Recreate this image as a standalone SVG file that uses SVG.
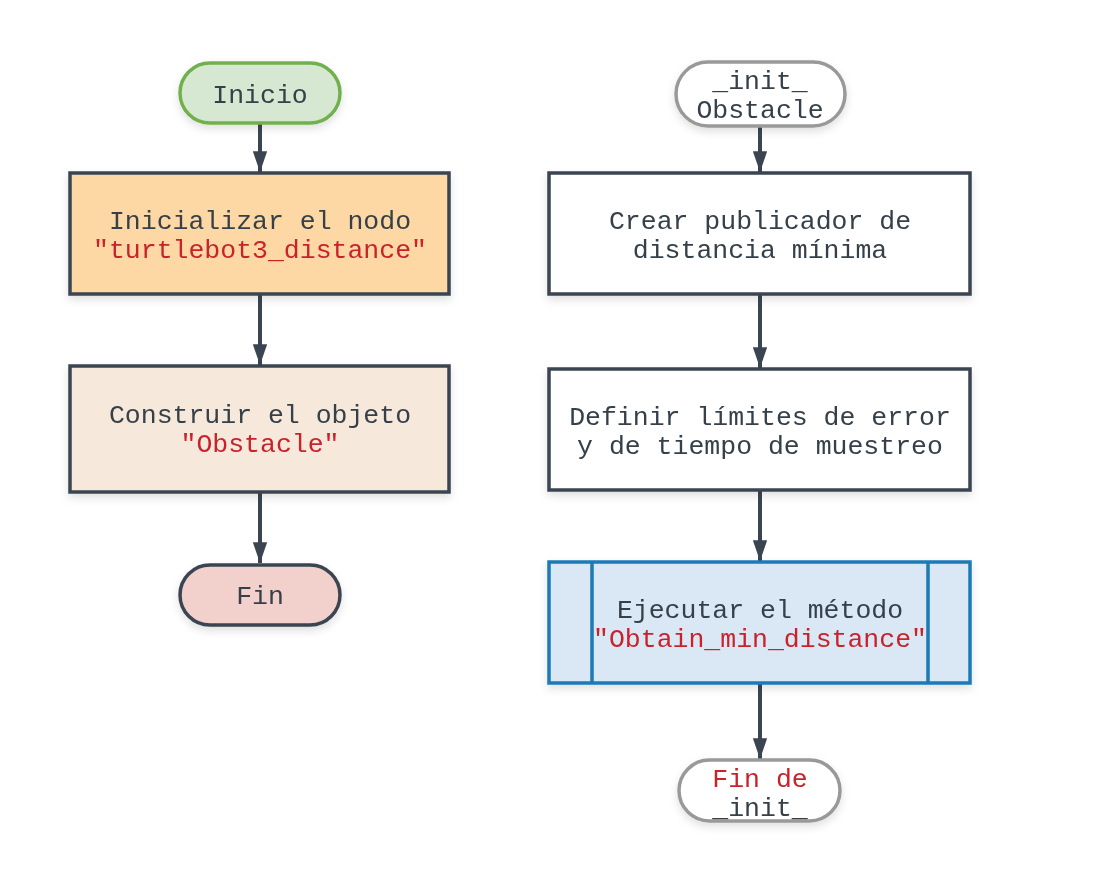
<svg xmlns="http://www.w3.org/2000/svg" width="1105" height="883" viewBox="0 0 1105 883">
<style>
text{font-family:"Liberation Mono","DejaVu Sans Mono",monospace;font-size:26.5px;fill:#36404a;text-anchor:middle}
.r{fill:#c8232c}
.box{stroke:#3b4551;stroke-width:3.5}
.con{stroke:#3b4551;stroke-width:4;fill:none;marker-end:url(#ah)}
</style>
<defs>
<marker id="ah" viewBox="0 0 10 10" refX="10" refY="5" markerWidth="5.2" markerHeight="3.6" markerUnits="strokeWidth" orient="auto" preserveAspectRatio="none"><path d="M0,0L10,5L0,10z" fill="#3b4551"/></marker>
<filter id="sh" x="-10%" y="-10%" width="120%" height="130%"><feDropShadow dx="0" dy="4" stdDeviation="4" flood-color="#000" flood-opacity="0.12"/></filter>
</defs>
<g id="connectors">
<line class="con" x1="260" y1="123" x2="260" y2="172"/>
<line class="con" x1="260" y1="294" x2="260" y2="365"/>
<line class="con" x1="260" y1="492" x2="260" y2="563"/>
<line class="con" x1="760" y1="126" x2="760" y2="172"/>
<line class="con" x1="760" y1="294" x2="760" y2="368"/>
<line class="con" x1="760" y1="490" x2="760" y2="561"/>
<line class="con" x1="760" y1="683" x2="760" y2="759"/>
</g>
<g id="inicio" filter="url(#sh)">
<rect x="180" y="63" width="160" height="60" rx="30" fill="#d6e8d1" stroke="#72b04e" stroke-width="3.5"/>
<text x="260" y="103">Inicio</text>
</g>
<g id="inicializar" filter="url(#sh)">
<rect class="box" x="70" y="173" width="379" height="121" fill="#fed8a4"/>
<text x="260" y="229">Inicializar el nodo</text>
<text class="r" x="260" y="258">"turtlebot3_distance"</text>
</g>
<g id="construir" filter="url(#sh)">
<rect class="box" x="70" y="366" width="379" height="126" fill="#f6e9dc"/>
<text x="260" y="423">Construir el objeto</text>
<text class="r" x="260" y="452">"Obstacle"</text>
</g>
<g id="fin" filter="url(#sh)">
<rect class="box" x="180" y="565" width="160" height="60" rx="30" fill="#f2d0cb"/>
<text x="260" y="604">Fin</text>
</g>
<g id="init_obstacle" filter="url(#sh)">
<rect x="676" y="62" width="169" height="64" rx="32" fill="#ffffff" stroke="#999999" stroke-width="3.5"/>
<text x="760" y="89">_init_</text>
<text x="760" y="118">Obstacle</text>
</g>
<g id="crear" filter="url(#sh)">
<rect class="box" x="549" y="173" width="421" height="121" fill="#ffffff"/>
<text x="760" y="229">Crear publicador de</text>
<text x="760" y="258">distancia mínima</text>
</g>
<g id="definir" filter="url(#sh)">
<rect class="box" x="549" y="369" width="421" height="121" fill="#ffffff"/>
<text x="760" y="425">Definir límites de error</text>
<text x="760" y="454">y de tiempo de muestreo</text>
</g>
<g id="ejecutar" filter="url(#sh)">
<rect x="549" y="562" width="421" height="121" fill="#dae8f6" stroke="#1a7ab6" stroke-width="3.5"/>
<line x1="592" y1="562" x2="592" y2="683" stroke="#1a7ab6" stroke-width="3.5"/>
<line x1="928" y1="562" x2="928" y2="683" stroke="#1a7ab6" stroke-width="3.5"/>
<text x="760" y="618">Ejecutar el método</text>
<text class="r" x="760" y="647">"Obtain_min_distance"</text>
</g>
<g id="fin_init" filter="url(#sh)">
<rect x="679" y="760" width="161" height="61" rx="30.5" fill="#ffffff" stroke="#999999" stroke-width="3.5"/>
<text class="r" x="760" y="787">Fin de</text>
<text x="760" y="816">_init_</text>
</g>
</svg>
